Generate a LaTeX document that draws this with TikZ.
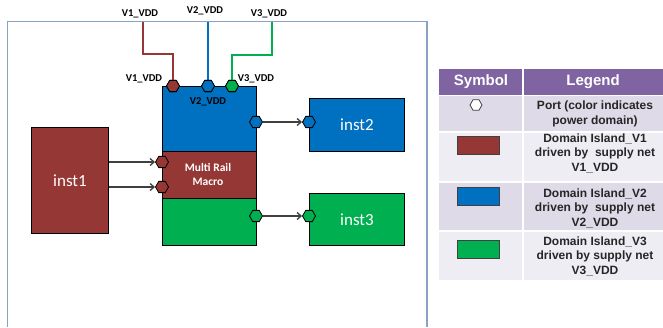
\documentclass[tikz,border=0pt]{standalone}
\usepackage{fontspec}
\setmainfont{Carlito}
\newfontfamily\arialf{Liberation Sans}
\usetikzlibrary{shapes.geometric,arrows.meta}
\definecolor{dred}{HTML}{953735}
\definecolor{dblue}{HTML}{0070C0}
\definecolor{dgreen}{HTML}{00B050}
\definecolor{framec}{HTML}{8AA2C4}
\definecolor{hdr}{HTML}{8064A2}
\definecolor{rowa}{HTML}{DFDAE8}
\definecolor{rowb}{HTML}{EFEDF4}
\definecolor{txtc}{HTML}{262626}
\definecolor{arrc}{HTML}{404040}
\tikzset{
  blk/.style={draw=black, line width=1pt, inner sep=0pt, text=white, anchor=north west},
  port/.style={regular polygon, regular polygon sides=6, minimum size=13pt, draw=black, line width=0.8pt, inner sep=0pt},
  wire/.style={line width=2.4pt},
  arr/.style={draw=arrc, line width=1.3pt, -{Straight Barb[length=4pt,width=7pt]}},
  vlab/.style={font=\bfseries\fontsize{10.5}{12}\selectfont, text=black, inner sep=0pt},
  leg/.style={font=\arialf\bfseries\fontsize{12}{14.5}\selectfont, text=txtc, align=center, inner sep=0pt},
  hd/.style={font=\arialf\bfseries\fontsize{15}{18}\selectfont, text=white, inner sep=0pt},
  frame/.style={draw=framec, line width=1.5pt}
}
\begin{document}
\begin{tikzpicture}[x=1pt,y=-1pt]
\useasboundingbox (0,0) rectangle (663,327);
% frame
\draw[frame] (7.5,327) -- (7.5,21.5) -- (427,21.5) -- (427,327);
% blocks
\node[blk, fill=dred, minimum width=77pt, minimum height=106pt] (inst1) at (31,127) {};
\node[text=white, font=\fontsize{17}{20}\selectfont] (l1) at (inst1.center) {inst1};
\node[blk, fill=dblue, minimum width=94pt, minimum height=65pt] (mblue) at (162,86) {};
\node[blk, fill=dred, minimum width=94pt, minimum height=47pt] (mred) at (162,151) {};
\node[blk, fill=dgreen, minimum width=94pt, minimum height=47pt] (mgreen) at (162,198) {};
\node[text=white, font=\bfseries\fontsize{11.5}{14}\selectfont, align=center] (mtxt) at (208,174) {Multi Rail\\Macro};
\node[blk, fill=dblue, minimum width=95pt, minimum height=53pt] (inst2) at (309,98) {};
\node[text=white, font=\fontsize{17}{20}\selectfont] (l2) at (inst2.center) {inst2};
\node[blk, fill=dgreen, minimum width=95pt, minimum height=52pt] (inst3) at (309,193) {};
\node[text=white, font=\fontsize{17}{20}\selectfont] (l3) at (inst3.center) {inst3};
% labels
\node[vlab] (tv1) at (140,14) {V1\_VDD};
\node[vlab] (tv2) at (205,11) {V2\_VDD};
\node[vlab] (tv3) at (269,14) {V3\_VDD};
\node[vlab] (lv1) at (144,79) {V1\_VDD};
\node[vlab] (lv3) at (256,79) {V3\_VDD};
\node[vlab] (lv2) at (208,102) {V2\_VDD};
% wires
\coordinate (t1) at (143,22);
\coordinate (t2) at (208,22);
\coordinate (t3) at (272,22);
\node[port, fill=dred] (p1) at (173,86) {};
\node[port, fill=dblue] (p2) at (208,86) {};
\node[port, fill=dgreen] (p3) at (232,86) {};
\draw[wire, dred] (t1) -- ++(0,32) -| (p1.north);
\draw[wire, dblue] (t2) -- (p2.north);
\draw[wire, dgreen] (t3) -- ++(0,33) -| (p3.north);
\node[port, fill=dred] (p1b) at (173,86) {};
\node[port, fill=dblue] (p2b) at (208,86) {};
\node[port, fill=dgreen] (p3b) at (232,86) {};
% side ports
\node[port, fill=dblue] (pb) at (256,122) {};
\node[port, fill=dgreen] (pg) at (256,216) {};
\node[port, fill=dblue] (i2p) at (309,122) {};
\node[port, fill=dgreen] (i3p) at (309,216) {};
\node[port, fill=dred] (pl1) at (162,162) {};
\node[port, fill=dred] (pl2) at (162,187) {};
% arrows
\draw[arr] (inst1.east |- pl1) -- (pl1.west);
\draw[arr] (inst1.east |- pl2) -- (pl2.west);
\draw[arr] (pb.east) -- (i2p.west);
\draw[arr] (pg.east) -- (i3p.west);
% legend table
\fill[hdr] (439,69) rectangle (663,95);
\fill[rowa] (439,95) rectangle (663,132);
\fill[rowb] (439,132) rectangle (663,182);
\fill[rowa] (439,182) rectangle (663,231);
\fill[rowb] (439,231) rectangle (663,280);
\draw[white, line width=1.5pt] (523,69) -- (523,280);
\draw[white, line width=1.5pt] (439,95.5) -- (663,95.5);
\draw[white, line width=1.2pt] (439,132) -- (663,132) (439,182) -- (663,182) (439,231) -- (663,231);
\node[hd] (hs) at (481,82) {Symbol};
\node[hd] (hl) at (593,82) {Legend};
\node[port, fill=white, draw=arrc, minimum size=12pt] (sp) at (476,105) {};
\node[leg] (r1) at (595,114) {Port (color indicates\\power domain)};
\fill[dred, draw=arrc, line width=0.8pt] (457,136) rectangle (499,154);
\node[leg] (r2) at (595,153) {Domain Island\_V1\\driven by\ \ supply net\\V1\_VDD};
\fill[dblue, draw=arrc, line width=0.8pt] (457,187) rectangle (499,205);
\node[leg] (r3) at (595,208) {Domain Island\_V2\\driven by\ \ supply net\\V2\_VDD};
\fill[dgreen, draw=arrc, line width=0.8pt] (457,240) rectangle (499,258);
\node[leg] (r4) at (595,256) {Domain Island\_V3\\driven by supply net\\V3\_VDD};
\end{tikzpicture}
\end{document}
